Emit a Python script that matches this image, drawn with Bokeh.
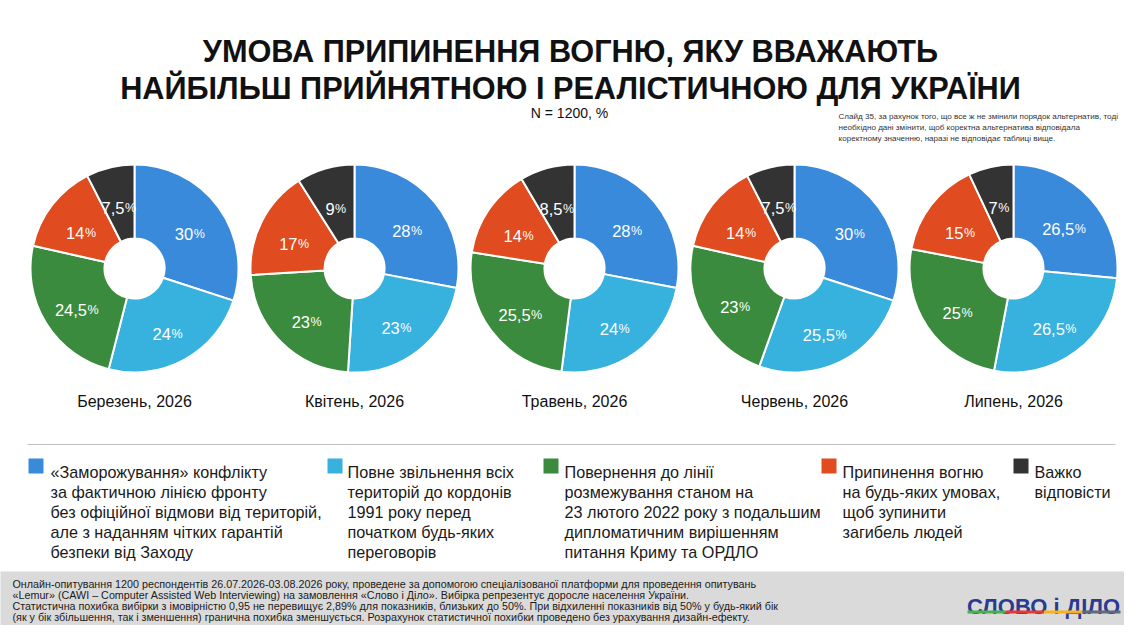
import math
from bokeh.plotting import figure
from bokeh.models import Range1d
from bokeh.core.properties import value
from bokeh.embed import file_html
from bokeh.resources import INLINE

# ---------------- data ----------------
months = ["Березень, 2026", "Квітень, 2026", "Травень, 2026", "Червень, 2026", "Липень, 2026"]
freeze = [30, 28, 28, 30, 26.5]
liberation = [24, 23, 24, 25.5, 26.5]
return_line = [24.5, 23, 25.5, 23, 25]
ceasefire = [14, 17, 14, 14, 15]
hard_to_say = [7.5, 9, 8.5, 7.5, 7]

series = [freeze, liberation, return_line, ceasefire, hard_to_say]
colors = ["#3a8adb", "#37b1de", "#3a8b3d", "#e04b1f", "#333333"]

legend_labels = [
    ["«Заморожування» конфлікту", "за фактичною лінією фронту",
     "без офіційної відмови від територій,", "але з наданням чітких гарантій",
     "безпеки від Заходу"],
    ["Повне звільнення всіх", "територій до кордонів", "1991 року перед",
     "початком будь-яких", "переговорів"],
    ["Повернення до лінії", "розмежування станом на",
     "23 лютого 2022 року з подальшим", "дипломатичним вирішенням",
     "питання Криму та ОРДЛО"],
    ["Припинення вогню", "на будь-яких умовах,", "щоб зупинити", "загибель людей"],
    ["Важко", "відповісти"],
]

title_lines = ["УМОВА ПРИПИНЕННЯ ВОГНЮ, ЯКУ ВВАЖАЮТЬ",
               "НАЙБІЛЬШ ПРИЙНЯТНОЮ І РЕАЛІСТИЧНОЮ ДЛЯ УКРАЇНИ"]
subtitle = "N = 1200, %"
note_lines = ["Слайд 35, за рахунок того, що все ж не змінили порядок альтернатив, тоді",
              "необхідно дані змінити, щоб коректна альтернатива відповідала",
              "коректному значенню, наразі не відповідає таблиці вище."]
footer_lines = [
    "Онлайн-опитування 1200 респондентів 26.07.2026-03.08.2026 року, проведене за допомогою спеціалізованої платформи для проведення опитувань",
    "«Lemur» (CAWI – Computer Assisted Web Interviewing) на замовлення «Слово і Діло». Вибірка репрезентує доросле населення України.",
    "Статистична похибка вибірки з імовірністю 0,95 не перевищує 2,89% для показників, близьких до 50%. При відхиленні показників від 50% у будь-який бік",
    "(як у бік збільшення, так і зменшення) гранична похибка зменшується. Розрахунок статистичної похибки проведено без урахування дизайн-ефекту.",
]
logo_text = "СЛОВО і ДІЛО"
logo_colors = ["#4caf50", "#e53935", "#f9b21c", "#5f6b7a"]

# ---------------- layout ----------------
W, H = 1124, 625
p = figure(width=W, height=H, x_range=Range1d(0, W), y_range=Range1d(0, H),
           output_backend="svg", toolbar_location=None, min_border=0)
p.axis.visible = False
p.grid.visible = False
p.outline_line_color = None
p.background_fill_color = "white"
p.border_fill_color = "white"


def Y(y):
    return H - y


def fs(px):
    return f"{px:.2f}px"


FONT = value("Liberation Sans")

# title
for i, line in enumerate(title_lines):
    p.text(x=[570], y=[Y([51, 88][i])], text=[line], text_font=FONT, text_font_size=fs(30.7),
           text_font_style="bold", text_color="#111111", text_align="center",
           text_baseline="alphabetic")
p.text(x=[569], y=[Y(112)], text=[subtitle], text_font=FONT, text_font_size=fs(14),
       text_color="#111111", text_align="center", text_baseline="alphabetic")

# note
for i, line in enumerate(note_lines):
    p.text(x=[838], y=[Y(116 + i * 11)], text=[line], text_font=FONT, text_font_size=fs(8.1),
           text_color="#333333", text_align="left", text_baseline="alphabetic")

# pies
centers_x = [134, 354, 574, 794, 1013]
CY = 268
R_OUT, R_IN, R_LAB = 104, 30, 68
CHAR_W = {",": 0.278}
NUM_PX, PCT_PX = 16.5, 12.5

for m, cx in enumerate(centers_x):
    cum = 0.0
    for k, ser in enumerate(series):
        v = ser[m]
        a0 = math.pi / 2 - 2 * math.pi * cum / 100
        a1 = math.pi / 2 - 2 * math.pi * (cum + v) / 100
        p.annular_wedge(x=[cx], y=[Y(CY)], inner_radius=R_IN, outer_radius=R_OUT,
                        inner_radius_units="screen", outer_radius_units="screen",
                        start_angle=[a0], end_angle=[a1], direction="clock",
                        fill_color=colors[k], line_color="white", line_width=2)
        mid = math.pi / 2 - 2 * math.pi * (cum + v / 2) / 100
        lx = cx + R_LAB * math.cos(mid)
        ly = Y(CY) + R_LAB * math.sin(mid)
        num = f"{v:g}".replace(".", ",")
        wnum = sum(CHAR_W.get(c, 0.556) for c in num) * NUM_PX
        wpct = 0.889 * PCT_PX
        left = lx - (wnum + wpct) / 2
        base = ly - 0.716 * NUM_PX / 2
        p.text(x=[left], y=[base], text=[num], text_font=FONT, text_font_size=fs(NUM_PX),
               text_color="white", text_align="left", text_baseline="alphabetic")
        p.text(x=[left + wnum + 0.5], y=[base], text=["%"], text_font=FONT,
               text_font_size=fs(PCT_PX), text_color="white", text_align="left",
               text_baseline="alphabetic")
        cum += v
    p.text(x=[cx], y=[Y(401)], text=[months[m]], text_font=FONT, text_font_size=fs(16),
           text_color="#111111", text_align="center", text_baseline="alphabetic")

# separator
p.line(x=[27, 1115], y=[Y(444), Y(444)], line_color="#c0c0c0", line_width=1.2)

# legend
sq_x = [28, 327, 543, 821, 1013]
tx_x = [50, 347, 564, 842, 1034]
for k, lines in enumerate(legend_labels):
    p.quad(left=[sq_x[k]], right=[sq_x[k] + 15], top=[Y(458)], bottom=[Y(473)],
           fill_color=colors[k], line_color=None)
    for j, line in enumerate(lines):
        p.text(x=[tx_x[k]], y=[Y(471 + j * 20)], text=[line], text_font=FONT,
               text_font_size=fs(16.2), text_color="#1a1a1a", text_align="left",
               text_baseline="alphabetic")

# footer band
p.quad(left=[-5], right=[W + 5], top=[Y(571)], bottom=[-5],
       fill_color="#dadada", line_color=None)
for i, line in enumerate(footer_lines):
    p.text(x=[12], y=[Y(583 + i * 11)], text=[line], text_font=FONT,
           text_font_size=fs(10.75), text_color="#1a1a1a", text_align="left",
           text_baseline="alphabetic")

# logo
p.text(x=[1043], y=[Y(606)], text=[logo_text], text_font=FONT, text_font_size=fs(22),
       text_font_style="bold", text_color="#2b3a91", text_align="center",
       text_baseline="alphabetic")
seg = (1120 - 967) / 4
for i, c in enumerate(logo_colors):
    p.quad(left=[967 + i * seg], right=[967 + (i + 1) * seg], top=[Y(610)], bottom=[Y(613)],
           fill_color=c, line_color=None)

open("out.html", "w").write(file_html(p, INLINE))
